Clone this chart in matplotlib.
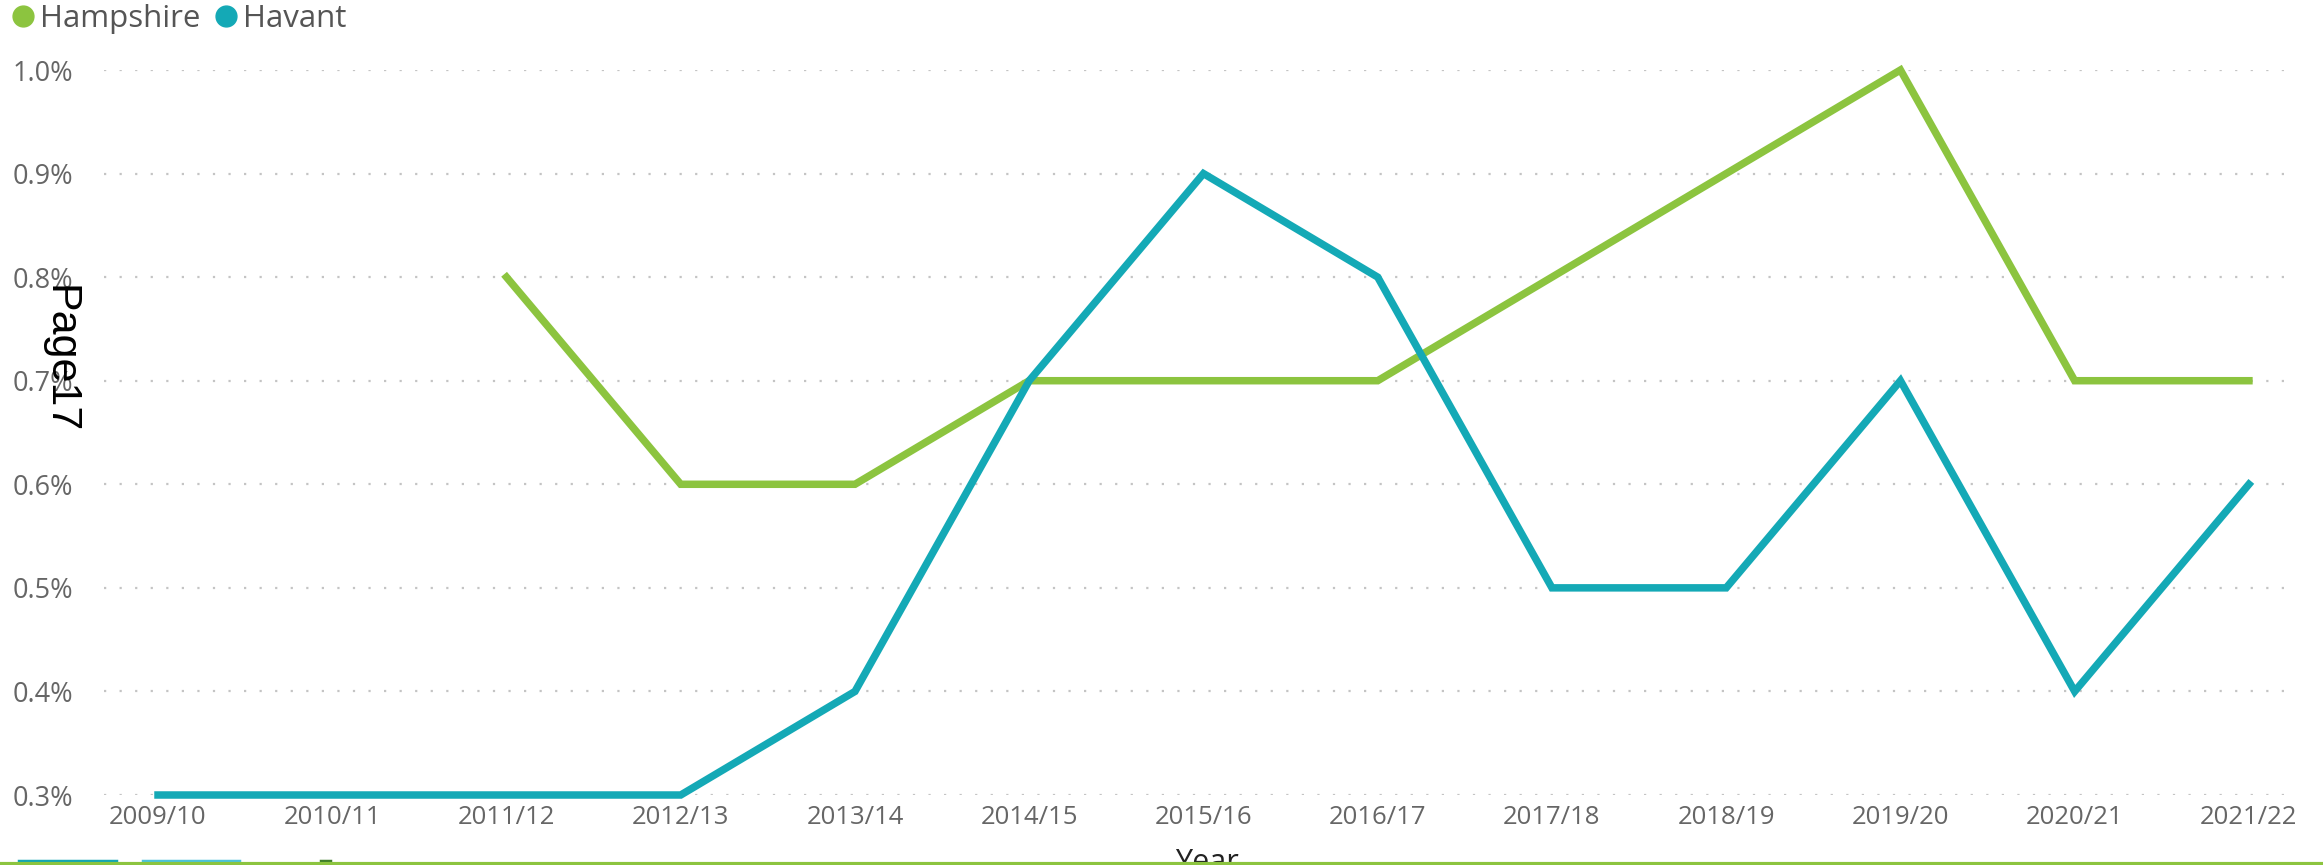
import matplotlib
matplotlib.use("Agg")
import matplotlib.pyplot as plt
from matplotlib.lines import Line2D
import numpy as np

years = ["2009/10", "2010/11", "2011/12", "2012/13", "2013/14", "2014/15", "2015/16",
         "2016/17", "2017/18", "2018/19", "2019/20", "2020/21", "2021/22"]
hampshire = [np.nan, np.nan, 0.8, 0.6, 0.6, 0.7, 0.7, 0.7, 0.8, 0.9, 1.0, 0.7, 0.7]
havant = [0.3, 0.3, 0.3, 0.3, 0.4, 0.7, 0.9, 0.8, 0.5, 0.5, 0.7, 0.4, 0.6]
yticks = [0.3, 0.4, 0.5, 0.6, 0.7, 0.8, 0.9, 1.0]

GREEN = "#8CC43F"
TEAL = "#14A9B6"
W, H = 2323, 865

fig = plt.figure(figsize=(W / 100, H / 100), dpi=100)
left, right, top, bottom = 104, 2289, 70, 795
ax = fig.add_axes([left / W, 1 - bottom / H, (right - left) / W, (bottom - top) / H])

x = np.arange(len(years))
ax.plot(x, hampshire, color=GREEN, lw=5.4, solid_joinstyle="miter", clip_on=False, zorder=3)
ax.plot(x, havant, color=TEAL, lw=5.4, solid_joinstyle="miter", clip_on=False, zorder=4)

ax.set_xlim(-0.31, 12.23)
ax.set_ylim(0.3, 1.0)
ax.set_yticks(yticks)
ax.set_yticklabels([f"{v:.1f}%" for v in yticks])
ax.set_xticks(x)
ax.set_xticklabels(years)

for v in yticks:
    ax.axhline(v, color="#c4c4c4", lw=1.6, dashes=(1, 6), zorder=1)

for s in ax.spines.values():
    s.set_visible(False)
ax.tick_params(axis="both", length=0, colors="#666666")
ax.tick_params(axis="y", pad=66)
ax.tick_params(axis="x", pad=7)
for lab in ax.get_yticklabels():
    lab.set_fontfamily("Open Sans")
    lab.set_fontsize(19.5)
    lab.set_horizontalalignment("left")
for lab in ax.get_xticklabels():
    lab.set_fontfamily("Open Sans")
    lab.set_fontsize(18.5)

# legend
handles = [Line2D([], [], marker="o", ls="none", color=GREEN, markersize=15),
           Line2D([], [], marker="o", ls="none", color=TEAL, markersize=15)]
fig.legend(handles, ["Hampshire", "Havant"], loc="center left",
           bbox_to_anchor=(6 / W, 1 - 19 / H), ncol=2, frameon=False,
           handletextpad=0.0, columnspacing=0.25, handlelength=1.1,
           prop={"family": "Open Sans", "size": 22.5}, labelcolor="#555555",
           borderaxespad=0, borderpad=0)

# overlay page label
fig.text(59 / W, 1 - 359 / H, "Page17", rotation=270, ha="center", va="center",
         family="Liberation Sans", fontsize=31, color="black")

# axis title, partially cut off
fig.text(1207 / W, 1 - 848 / H, "Year", ha="center", va="top",
         family="Open Sans", fontsize=22, color="#222222")

# bottom decorations
fig.add_artist(Line2D([0, 1], [1.5 / H, 1.5 / H], transform=fig.transFigure,
                      color=GREEN, lw=3, zorder=10))
fig.add_artist(Line2D([19 / W, 116 / W], [4.5 / H, 4.5 / H], transform=fig.transFigure,
                      color="#13A6B3", lw=2.5, zorder=9))
fig.add_artist(Line2D([143 / W, 239 / W], [4.5 / H, 4.5 / H], transform=fig.transFigure,
                      color="#4CC3D9", lw=2.5, zorder=9))
fig.add_artist(Line2D([321 / W, 330 / W], [4.5 / H, 4.5 / H], transform=fig.transFigure,
                      color="#3F7F2A", lw=2.5, zorder=9))

fig.savefig("out.png", dpi=100, facecolor="white")
